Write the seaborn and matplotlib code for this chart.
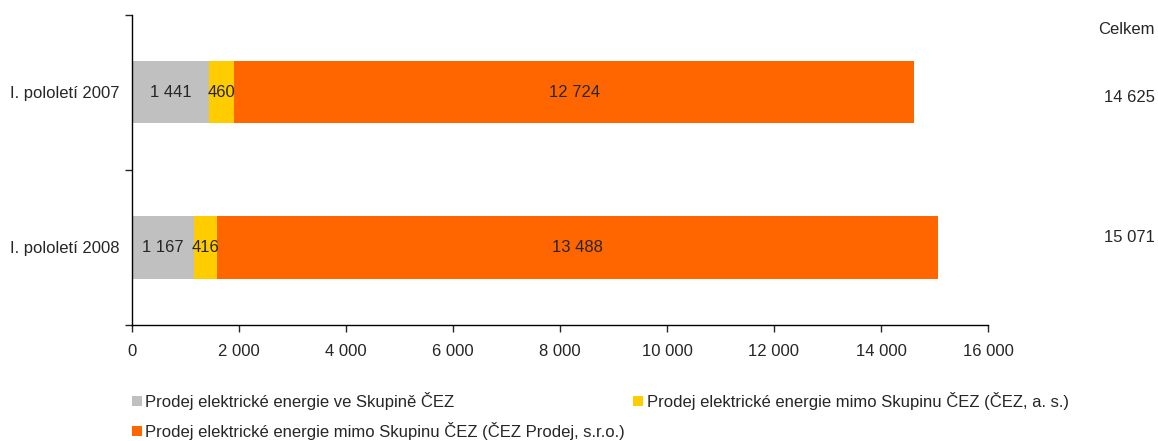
import pandas as pd
import matplotlib.pyplot as plt
import seaborn as sns
from matplotlib.patches import Patch

# Data
periods = ["I. pololetí 2007", "I. pololetí 2008"]
within_group = [1441, 1167]
outside_cez_as = [460, 416]
outside_cez_prodej = [12724, 13488]
totals = [14625, 15071]

series_names = [
    "Prodej elektrické energie ve Skupině ČEZ",
    "Prodej elektrické energie mimo Skupinu ČEZ (ČEZ, a. s.)",
    "Prodej elektrické energie mimo Skupinu ČEZ (ČEZ Prodej, s.r.o.)",
]
colors = ["#C0C0C0", "#FFCC00", "#FF6600"]

sns.set_style("ticks")
plt.rcParams["font.family"] = ["Liberation Sans", "DejaVu Sans"]
plt.rcParams["font.size"] = 12


def fmt(v):
    return f"{v:,}".replace(",", " ")


df = pd.DataFrame({
    "period": periods,
    "a": within_group,
    "b": outside_cez_as,
    "c": outside_cez_prodej,
})
df["cum_a"] = df["a"]
df["cum_b"] = df["a"] + df["b"]
df["cum_c"] = df["a"] + df["b"] + df["c"]

fig = plt.figure(figsize=(11.58, 4.41), dpi=100)
ax = fig.add_axes([132 / 1158, 1 - 325 / 441, (988 - 132) / 1158, 310 / 441])

# stacked bars drawn as cumulative overlays (largest first)
for col, color in zip(["cum_c", "cum_b", "cum_a"], colors[::-1]):
    sns.barplot(data=df, y="period", x=col, color=color, width=0.4,
                saturation=1, ax=ax, orient="h", linewidth=0)

# segment labels
for i in range(len(periods)):
    starts = [0, df["cum_a"][i], df["cum_b"][i]]
    vals = [df["a"][i], df["b"][i], df["c"][i]]
    for s, v in zip(starts, vals):
        ax.text(s + v / 2, i, fmt(v), ha="center", va="center", fontsize=12)

ax.set_xlim(0, 16000)
ax.set_ylim(1.5, -0.5)
ax.set_xticks(range(0, 16001, 2000))
ax.set_xticklabels([fmt(t) for t in range(0, 16001, 2000)])
ax.set_yticks([-0.5, 0.5, 1.5], minor=True)
ax.tick_params(axis="y", which="major", length=0, pad=9)
ax.tick_params(axis="y", which="minor", length=5, width=1)
ax.tick_params(axis="x", length=5, width=1, pad=9)
ax.set_xlabel("")
ax.set_ylabel("")
for side in ["top", "right"]:
    ax.spines[side].set_visible(False)
for side in ["left", "bottom"]:
    ax.spines[side].set_color("black")
    ax.spines[side].set_linewidth(1)

# totals column
fig.text(1155 / 1158, 1 - 29 / 441, "Celkem", ha="right", va="center")
total_y = [98, 238]
for t, yy in zip(totals, total_y):
    fig.text(1155 / 1158, 1 - yy / 441, fmt(t), ha="right", va="center")

handles = [Patch(facecolor=c, edgecolor="none") for c in colors]
order = [0, 2, 1]
fig.legend([handles[k] for k in order], [series_names[k] for k in order],
           ncol=2, loc="upper left", bbox_to_anchor=(132 / 1158, 1 - 392 / 441),
           frameon=False, handlelength=0.6, handleheight=0.6, handletextpad=0.2,
           columnspacing=0.5, labelspacing=0.7, borderpad=0, borderaxespad=0)

plt.savefig("out.png", dpi=100)
